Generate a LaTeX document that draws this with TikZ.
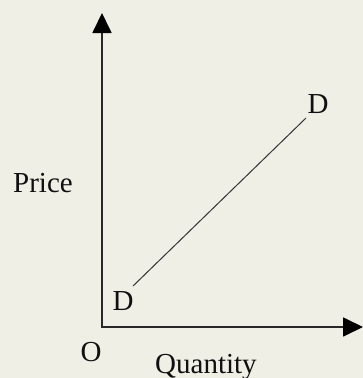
\documentclass[tikz,border=0pt]{standalone}
\usepackage{fontspec}
\setmainfont{Liberation Serif}
\usetikzlibrary{arrows.meta}
\definecolor{bg}{HTML}{F0EFE6}
\definecolor{ink}{HTML}{101010}
\begin{document}
\begin{tikzpicture}[x=1pt,y=-1pt,
  lbl/.style={font=\fontsize{29}{29}\selectfont,text=ink,inner sep=0pt,anchor=base},
  axis/.style={draw=ink!90,line width=1.8pt,-{Triangle[length=20pt,width=19pt,fill=black,color=black]}}]
\fill[bg] (0,0) rectangle (363,378);
\useasboundingbox (0,0) rectangle (363,378);
\coordinate (O) at (102,327);
\coordinate (ytip) at (102,13);
\coordinate (xtip) at (363,327);
\coordinate (d1) at (133,286);
\coordinate (d2) at (306,118);
\draw[axis] (O) -- (ytip);
\draw[axis] ([xshift=-0.9pt]O) -- (xtip);
\draw[ink!85,line width=1pt] (d1) -- (d2);
\node[lbl] (Dup) at (318,113) {D};
\node[lbl] (Dlow) at (123,310) {D};
\node[lbl] (Olbl) at (91,361) {O};
\node[lbl,anchor=base west] (price) at (13,192) {Price};
\node[lbl,anchor=base west] (qty) at (155,373) {Quantity};
\end{tikzpicture}
\end{document}
